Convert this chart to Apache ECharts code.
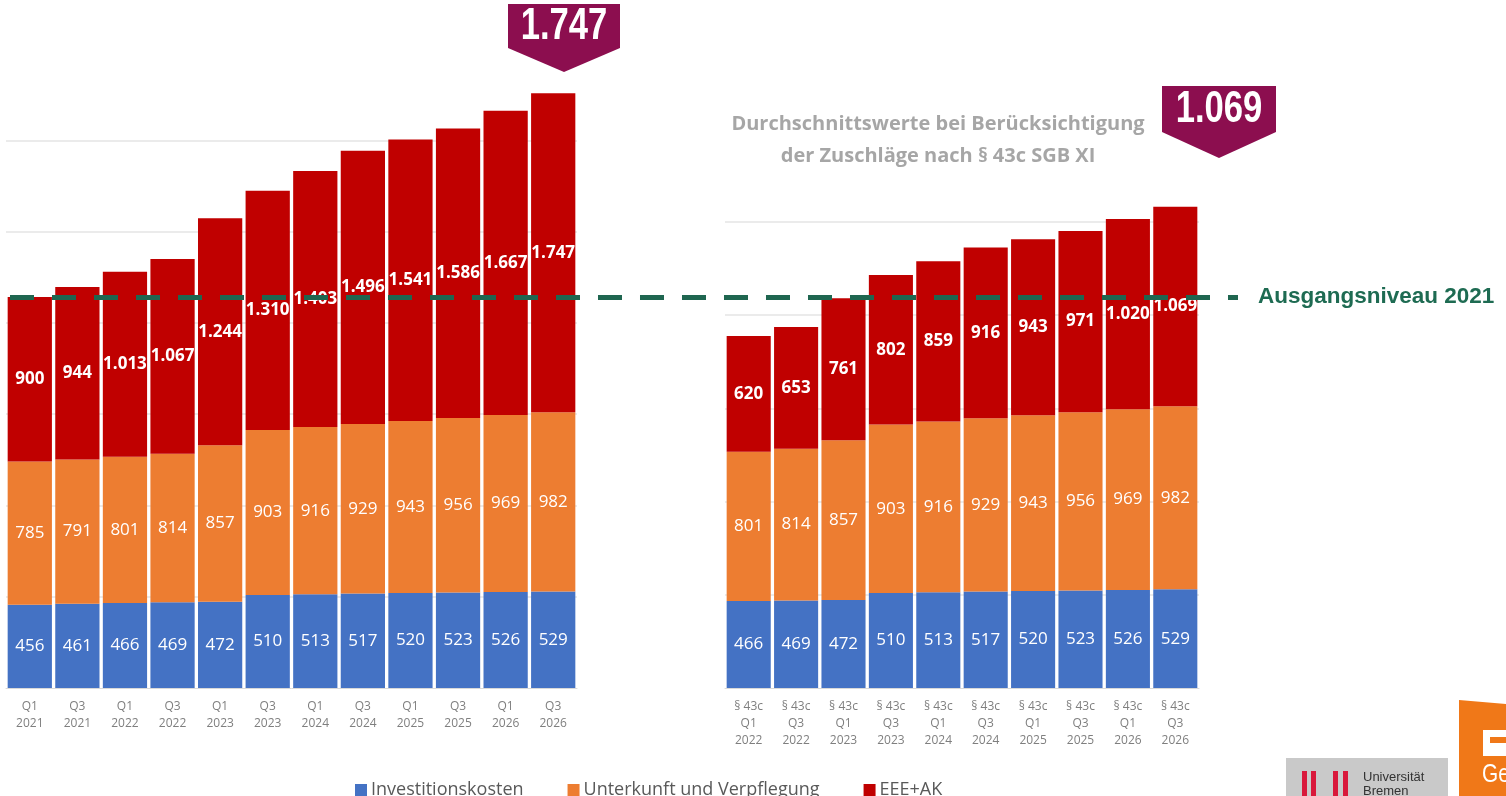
<!DOCTYPE html>
<html>
<head>
<meta charset="utf-8">
<script src="https://cdn.jsdelivr.net/npm/echarts@6.0.0/dist/echarts.min.js"></script>
<style>
  html, body { margin: 0; padding: 0; background: #fff; }
  #main { width: 1506px; height: 796px; }
</style>
</head>
<body>
<div id="main"></div>
<script>
// linke Grafik: Ausgangswerte
const quartaleLinks = ['Q1\n2021', 'Q3\n2021', 'Q1\n2022', 'Q3\n2022', 'Q1\n2023', 'Q3\n2023',
  'Q1\n2024', 'Q3\n2024', 'Q1\n2025', 'Q3\n2025', 'Q1\n2026', 'Q3\n2026'];
const investLinks = [456, 461, 466, 469, 472, 510, 513, 517, 520, 523, 526, 529];
const unterkunftLinks = [785, 791, 801, 814, 857, 903, 916, 929, 943, 956, 969, 982];
const eeeLinks = [900, 944, 1013, 1067, 1244, 1310, 1403, 1496, 1541, 1586, 1667, 1747];

// rechte Grafik: mit Zuschlägen nach § 43c
const quartaleRechts = ['§ 43c\nQ1\n2022', '§ 43c\nQ3\n2022', '§ 43c\nQ1\n2023', '§ 43c\nQ3\n2023',
  '§ 43c\nQ1\n2024', '§ 43c\nQ3\n2024', '§ 43c\nQ1\n2025', '§ 43c\nQ3\n2025', '§ 43c\nQ1\n2026', '§ 43c\nQ3\n2026'];
const investRechts = [466, 469, 472, 510, 513, 517, 520, 523, 526, 529];
const unterkunftRechts = [801, 814, 857, 903, 916, 929, 943, 956, 969, 982];
const eeeRechts = [620, 653, 761, 802, 859, 916, 943, 971, 1020, 1069];

const legendNamen = ['Investitionskosten', 'Unterkunft und Verpflegung', 'EEE+AK'];
const farben = ['#4472C4', '#ED7D31', '#C00000'];

// Ausgangsniveau = Gesamtwert Q1 2021
const ausgangsniveau = investLinks[0] + unterkunftLinks[0] + eeeLinks[0];

// deutsche Tausenderpunkte
const fmt = v => String(v).replace(/\B(?=(\d{3})+(?!\d))/g, '.');

const myChart = echarts.init(document.getElementById('main'));

function balken(name, data, farbe, stack, idx, fett) {
  return {
    name: name,
    type: 'bar',
    stack: stack,
    xAxisIndex: idx,
    yAxisIndex: idx,
    barCategoryGap: '7%',
    data: data,
    itemStyle: { color: farbe },
    label: {
      show: true,
      position: 'inside',
      color: '#fff',
      fontSize: 17,
      fontFamily: 'Open Sans',
      fontWeight: fett ? 'bold' : 'normal',
      formatter: p => fmt(p.value),
    },
  };
}

const xAchse = (daten, idx) => ({
  type: 'category',
  gridIndex: idx,
  data: daten,
  axisTick: { show: false },
  axisLine: { lineStyle: { color: '#d9d9d9' } },
  axisLabel: {
    interval: 0,
    color: '#7f7f7f',
    fontSize: 12,
    lineHeight: 17,
    fontFamily: 'Open Sans',
    margin: 10,
  },
});

const yAchse = (max, idx) => ({
  type: 'value',
  gridIndex: idx,
  min: 0,
  max: max,
  interval: 500,
  axisLabel: { show: false },
  axisLine: { show: false },
  axisTick: { show: false },
  splitLine: {
    showMinLine: false,
    showMaxLine: false,
    lineStyle: { color: '#e4e4e4', width: 1.5 },
  },
});

// Text im Hinweisschild, schmal gezogen
const schildText = (x, y, wert) => ({
  type: 'text',
  x: x, y: y,
  scaleX: 0.77,
  style: {
    text: fmt(wert),
    fill: '#fff', font: 'bold 45px "Liberation Sans", sans-serif',
    align: 'center', verticalAlign: 'middle',
  },
});

myChart.setOption({
  animation: false,
  grid: [
    { left: 6, top: 49, width: 571, height: 639 },
    { left: 725, top: 128.5, width: 474, height: 559.5 },
    { left: 10, top: 49, width: 1228, height: 639 }, // nur für die Ausgangsniveau-Linie
  ],
  legend: {
    data: legendNamen,
    left: 350,
    top: 776,
    icon: 'rect',
    itemWidth: 12,
    itemHeight: 12,
    itemGap: 44,
    textStyle: { color: '#595959', fontSize: 18, fontFamily: 'Open Sans', padding: [0, 0, 0, -1] },
  },
  xAxis: [
    xAchse(quartaleLinks, 0),
    xAchse(quartaleRechts, 1),
    { type: 'category', gridIndex: 2, data: [''], show: false },
  ],
  yAxis: [
    yAchse(3500, 0),
    yAchse(3000, 1),
    { type: 'value', gridIndex: 2, min: 0, max: 3500, show: false, splitLine: { show: false } },
  ],
  series: [
    balken(legendNamen[0], investLinks, farben[0], 'links', 0, false),
    balken(legendNamen[1], unterkunftLinks, farben[1], 'links', 0, false),
    balken(legendNamen[2], eeeLinks, farben[2], 'links', 0, true),
    balken(legendNamen[0], investRechts, farben[0], 'rechts', 1, false),
    balken(legendNamen[1], unterkunftRechts, farben[1], 'rechts', 1, false),
    balken(legendNamen[2], eeeRechts, farben[2], 'rechts', 1, true),
    {
      name: 'Ausgangsniveau',
      type: 'line',
      xAxisIndex: 2,
      yAxisIndex: 2,
      data: [null],
      symbol: 'none',
      z: 10,
      markLine: {
        silent: true,
        symbol: ['none', 'none'],
        data: [{ yAxis: ausgangsniveau }],
        lineStyle: { color: '#1F6650', width: 5, type: [24, 18] },
        label: {
          position: 'end',
          distance: 20,
          formatter: 'Ausgangsniveau 2021',
          color: '#1E6B52',
          fontSize: 22.5,
          fontWeight: 'bold',
          fontFamily: 'Liberation Sans',
        },
      },
    },
  ],
  graphic: [
    // Hinweisschild links
    {
      type: 'polygon',
      shape: { points: [[508, 4], [620, 4], [620, 48], [564, 72], [508, 48]] },
      style: { fill: '#8C0E4F' },
    },
    schildText(564, 27, eeeLinks[eeeLinks.length - 1]),
    // Hinweisschild rechts
    {
      type: 'polygon',
      shape: { points: [[1162, 86], [1276, 86], [1276, 132], [1219, 158], [1162, 132]] },
      style: { fill: '#8C0E4F' },
    },
    schildText(1219, 110, eeeRechts[eeeRechts.length - 1]),
    {
      type: 'text',
      x: 938, y: 108,
      style: {
        text: 'Durchschnittswerte bei Berücksichtigung\nder Zuschläge nach § 43c SGB XI',
        fill: '#a6a6a6', font: 'bold 20px "Open Sans", sans-serif',
        lineHeight: 32, align: 'center',
      },
    },
    // Logos unten rechts
    { type: 'rect', shape: { x: 1286, y: 758, width: 162, height: 38 }, style: { fill: '#c9c9c9' } },
    { type: 'rect', shape: { x: 1302, y: 771, width: 5, height: 25 }, style: { fill: '#d9183b' } },
    { type: 'rect', shape: { x: 1311, y: 771, width: 5, height: 25 }, style: { fill: '#d9183b' } },
    { type: 'rect', shape: { x: 1333, y: 771, width: 5, height: 25 }, style: { fill: '#d9183b' } },
    { type: 'rect', shape: { x: 1343, y: 771, width: 5, height: 25 }, style: { fill: '#d9183b' } },
    {
      type: 'text', x: 1363, y: 770,
      style: { text: 'Universität\nBremen', fill: '#333', font: '13px "Liberation Sans", sans-serif', lineHeight: 14 },
    },
    {
      type: 'polygon',
      shape: { points: [[1459, 700], [1506, 704], [1506, 796], [1459, 796]] },
      style: { fill: '#F07818' },
    },
    { type: 'rect', shape: { x: 1483, y: 730, width: 23, height: 26 }, style: { fill: '#fff' } },
    { type: 'rect', shape: { x: 1490, y: 737, width: 16, height: 6 }, style: { fill: '#F07818' } },
    {
      type: 'text', x: 1482, y: 762, scaleX: 0.8,
      style: { text: 'Ge', fill: '#fff', font: '26px "Liberation Sans", sans-serif' },
    },
  ],
});
</script>
</body>
</html>
